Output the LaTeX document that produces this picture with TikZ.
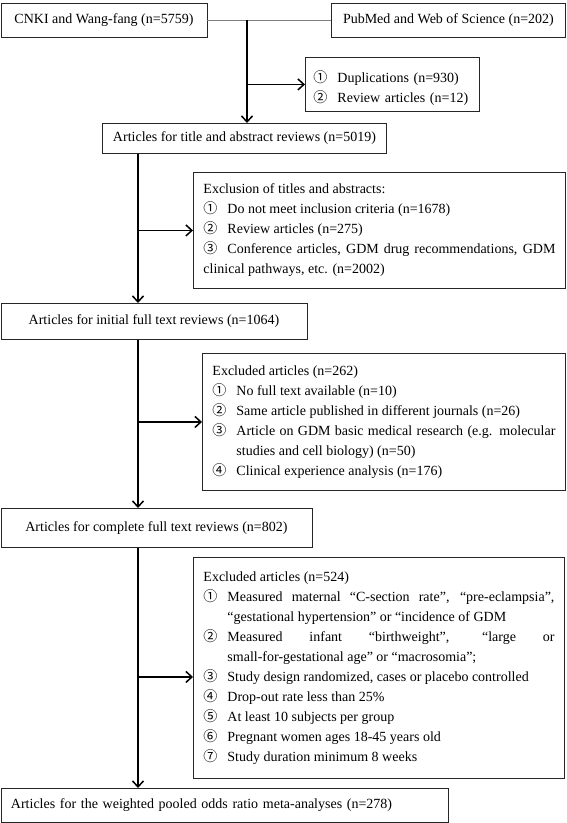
\documentclass[tikz,border=0pt]{standalone}
\usepackage{fontspec}
\setmainfont{Liberation Serif}
\newfontfamily\numfont{Noto Sans CJK SC}
\usetikzlibrary{arrows.meta}
\hbadness=10000
\newcommand{\exitem}[2]{\par\noindent\hangindent=24pt\hangafter=1\makebox[24pt][l]{\numfont #1}#2}

\begin{document}
\begin{tikzpicture}[x=1pt, y=-1pt, every node/.style={font=\fontsize{14}{20}\selectfont, inner sep=0pt}, >={Straight Barb[length=6pt,width=11pt]},
	stagebox/.style={draw=black!85, line width=0.9pt, anchor=north west, align=center},
	listbox/.style={stagebox, align=justify, inner xsep=10pt, execute at begin node={\parskip=0pt\hyphenpenalty=10000}},
	link/.style={line width=1.5pt}]
	\useasboundingbox (0,0) rectangle (567,823);
	% sources
	\node[stagebox, minimum width=206pt, minimum height=34pt] (cnki) at (0.5,3) {CNKI and Wang-fang (n=5759)};
	\node[stagebox, minimum width=234pt, minimum height=34pt] (pubmed) at (331,3) {PubMed and Web of Science (n=202)};
	\node[listbox, align=left, text width=158pt, inner xsep=8pt, minimum height=54pt] (dup) at (305,57) {\exitem{①}{Duplications (n=930)}\exitem{②}{Review articles (n=12)}};
	% screening stages
	\node[stagebox, minimum width=284pt, minimum height=30pt] (title) at (102,123) {Articles for title and abstract reviews (n=5019)};
	\node[listbox, text width=352pt, minimum height=116pt] (excl1) at (193,172) {Exclusion of titles and abstracts:
		\exitem{①}{Do not meet inclusion criteria (n=1678)}
		\exitem{②}{Review articles (n=275)}
		\exitem{③}{Conference articles, GDM drug recommendations, GDM\linebreak clinical pathways, etc. (n=2002)}};
	\node[stagebox, minimum width=306pt, minimum height=36pt] (initial) at (0.5,303) {Articles for initial full text reviews (n=1064)};
	\node[listbox, text width=343pt, minimum height=137pt] (excl2) at (202,353) {Excluded articles (n=262)
		\exitem{①}{No full text available (n=10)}
		\exitem{②}{Same article published in different journals (n=26)}
		\exitem{③}{Article on GDM basic medical research (e.g. molecular\linebreak studies and cell biology) (n=50)}
		\exitem{④}{Clinical experience analysis (n=176)}};
	\node[stagebox, minimum width=311pt, minimum height=39pt] (complete) at (0.5,508) {Articles for complete full text reviews (n=802)};
	\node[listbox, text width=351pt, minimum height=221pt] (excl3) at (193,557) {Excluded articles (n=524)
		\exitem{①}{Measured maternal “C-section rate”, “pre-eclampsia”,\linebreak “gestational hypertension” or “incidence of GDM}
		\exitem{②}{Measured infant “birthweight”, “large or\linebreak small-for-gestational age” or “macrosomia”;}
		\exitem{③}{Study design randomized, cases or placebo controlled}
		\exitem{④}{Drop-out rate less than 25\%}
		\exitem{⑤}{At least 10 subjects per group}
		\exitem{⑥}{Pregnant women ages 18-45 years old}
		\exitem{⑦}{Study duration minimum 8 weeks}};
	\node[stagebox, align=left, text width=427pt, inner xsep=10pt, minimum height=34pt] (final) at (0.5,788) {Articles for the weighted pooled odds ratio meta-analyses (n=278)};
	% connectors
	\draw[gray, line width=0.8pt] (cnki.east) -- (pubmed.west);
	\coordinate (top) at (247,0);
	\coordinate (trunk) at (138,0);
	\coordinate (excl3in) at ([yshift=-9pt]excl3.west);
	\draw[link, ->] (top |- cnki.east) -- (top |- title.north);
	\draw[link, ->] (top |- dup.west) -- (dup.west);
	\draw[link, ->] (trunk |- title.south) -- (trunk |- initial.north);
	\draw[link, ->] (trunk |- excl1.west) -- (excl1.west);
	\draw[link, ->] (trunk |- initial.south) -- (trunk |- complete.north);
	\draw[link, ->] (trunk |- excl2.west) -- (excl2.west);
	\draw[link, ->] (trunk |- complete.south) -- (trunk |- final.north);
	\draw[link, ->] (trunk |- excl3in) -- (excl3in);
\end{tikzpicture}
\end{document}
